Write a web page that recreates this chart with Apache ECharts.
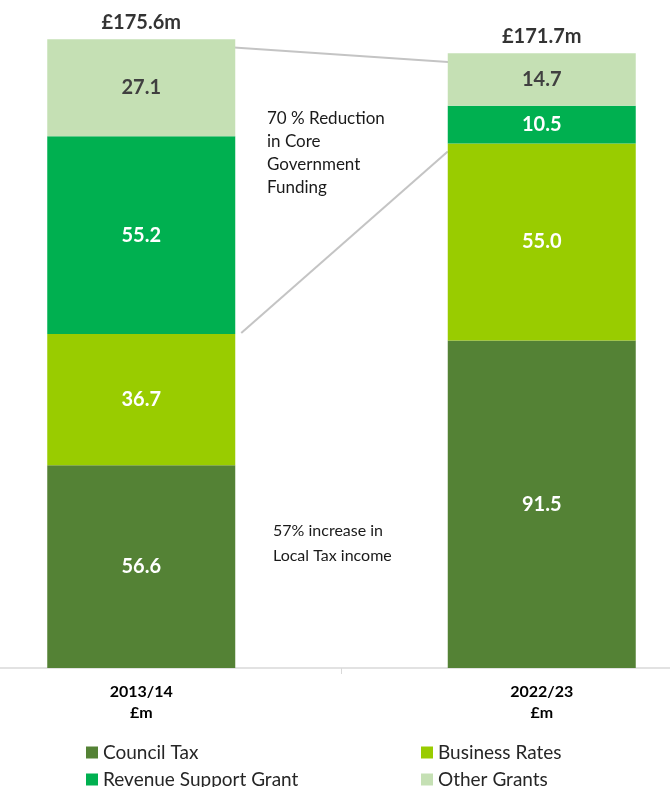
<!DOCTYPE html>
<html>
<head>
<meta charset="utf-8">
<script src="https://cdn.jsdelivr.net/npm/echarts@6/dist/echarts.min.js"></script>
<style>
html,body{margin:0;padding:0;background:#fff;width:670px;height:787px;overflow:hidden;position:relative}
#c{position:absolute;left:-59px;top:0;width:801px;height:787px}
</style>
</head>
<body>
<div id="c"></div>
<script>
const categories = ['2013/14', '2022/23'];
const unitLabel = '£m';
const councilTax = [56.6, 91.5];
const businessRates = [36.7, 55.0];
const revenueSupportGrant = [55.2, 10.5];
const otherGrants = [27.1, 14.7];
const totals = [175.6, 171.7];
const noteReduction = '70 % Reduction\nin Core\nGovernment\nFunding';
const noteIncrease = '57% increase in\nLocal Tax income';

const OFF = 59; // canvas is shifted left by this many px
const FONT = 'Lato, "Open Sans", sans-serif';
const BW = 188;
const colors = {ct: '#548235', br: '#99CC00', rsg: '#00B050', og: '#C5E0B4'};

function barSeries(name, data, color, labelColor) {
  return {
    name: name, type: 'bar', stack: 'total', data: data, barWidth: BW,
    itemStyle: {color: color},
    label: {show: true, position: 'inside', color: labelColor, fontFamily: FONT,
      fontWeight: 'bold', fontSize: 20, formatter: p => Number(p.value).toFixed(1)},
    emphasis: {disabled: true}
  };
}
function legendAt(name, left, top) {
  return {data: [name], left: left + OFF, top: top, icon: 'rect', itemWidth: 12, itemHeight: 12,
    itemGap: 0, textStyle: {fontFamily: FONT, fontSize: 19, color: '#262626'}, selectedMode: false};
}

const chart = echarts.init(document.getElementById('c'));
chart.setOption({
  animation: false,
  backgroundColor: '#fff',
  grid: {left: 0, right: 0, top: 23.5, bottom: 119},
  legend: [
    legendAt('Council Tax', 81, 738),
    legendAt('Business Rates', 416, 738),
    legendAt('Revenue Support Grant', 81, 765),
    legendAt('Other Grants', 416, 765)
  ],
  xAxis: {
    type: 'category', data: categories,
    axisLine: {lineStyle: {color: '#d9d9d9', width: 1.5}},
    axisTick: {show: true, length: 6, lineStyle: {color: '#d9d9d9'}},
    axisLabel: {formatter: v => v + '\n' + unitLabel, fontFamily: FONT, fontWeight: 'bold',
      fontSize: 16, color: '#000', lineHeight: 21, margin: 13}
  },
  yAxis: {type: 'value', min: 0, max: 180, show: false},
  series: [
    barSeries('Council Tax', councilTax, colors.ct, '#fff'),
    barSeries('Business Rates', businessRates, colors.br, '#fff'),
    barSeries('Revenue Support Grant', revenueSupportGrant, colors.rsg, '#fff'),
    barSeries('Other Grants', otherGrants, colors.og, '#404040'),
    {
      name: 'Total', type: 'scatter', data: totals, symbolSize: 1,
      itemStyle: {color: 'rgba(0,0,0,0)'},
      label: {show: true, position: 'top', distance: 6, color: '#000', fontFamily: FONT,
        fontWeight: 'bold', fontSize: 20, formatter: p => '£' + p.value + 'm'},
      emphasis: {disabled: true}
    }
  ]
});

const px = (i, v) => chart.convertToPixel({gridIndex: 0}, [i, v]);
const t0 = px(0, totals[0]), t1 = px(1, totals[1]);
const b0 = px(0, councilTax[0] + businessRates[0]);
const b1 = px(1, councilTax[1] + businessRates[1]);
chart.setOption({
  graphic: [
    {type: 'line', shape: {x1: t0[0] + BW / 2 - 5, y1: t0[1] + 8, x2: t1[0] - BW / 2 + 4, y2: t1[1] + 9},
      style: {stroke: '#c4c4c4', lineWidth: 2}},
    {type: 'line', shape: {x1: b0[0] + BW / 2 + 6, y1: b0[1] - 1, x2: b1[0] - BW / 2, y2: b1[1] + 8},
      style: {stroke: '#c4c4c4', lineWidth: 2}},
    {type: 'text', left: 267 + OFF, top: 107, style: {text: noteReduction, fontFamily: FONT, fontSize: 17,
      lineHeight: 23, fill: '#1a1a1a'}},
    {type: 'text', left: 273 + OFF, top: 518, style: {text: noteIncrease, fontFamily: FONT, fontSize: 16,
      lineHeight: 25, fill: '#1a1a1a'}}
  ]
});
</script>
</body>
</html>
